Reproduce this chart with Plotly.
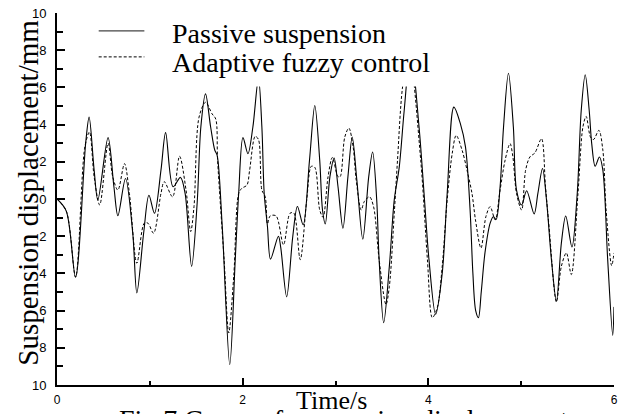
import plotly.graph_objects as go

# ---- data ----
t_passive = [0.0, 0.10, 0.20, 0.31, 0.346, 0.40, 0.44, 0.55, 0.613, 0.656, 0.738, 0.816, 0.86,
             0.934, 0.99, 1.05, 1.12, 1.17, 1.25, 1.33, 1.38, 1.45, 1.51, 1.55, 1.60, 1.655,
             1.70, 1.725, 1.78, 1.861, 1.92, 1.957, 2.003, 2.057, 2.11, 2.17, 2.207, 2.232,
             2.267, 2.30, 2.385, 2.41, 2.474, 2.54, 2.59, 2.652, 2.72, 2.777, 2.83, 2.86,
             2.89, 2.94, 2.985, 3.027, 3.08, 3.134, 3.18, 3.23, 3.294, 3.358, 3.40, 3.444,
             3.47, 3.519, 3.58, 3.633, 3.687, 3.74, 3.81, 3.90, 3.954, 4.007, 4.078, 4.15,
             4.203, 4.275, 4.345, 4.40, 4.45, 4.48, 4.51, 4.54, 4.57, 4.61, 4.666, 4.70,
             4.73, 4.773, 4.81, 4.863, 4.916, 4.95, 5.005, 5.059, 5.14, 5.18, 5.23, 5.273,
             5.326, 5.38, 5.433, 5.48, 5.547, 5.604, 5.647, 5.69, 5.733, 5.76, 5.797, 5.843,
             5.88, 5.932, 5.986, 6.0]
v_passive = [0.0, -0.65, -4.2, 3.07, 4.4, 1.55, -0.05, 3.3, 0.66, -0.9, 1.1, -1.83, -5.05,
             -1.8, 0.2, -0.77, 1.55, 3.57, 0.66, 1.16, 0.3, -3.62, -0.2, 3.9, 5.65, 3.87,
             2.62, 2.35, -1.48, -8.9, -3.26, 0.3, 3.3, 2.44, 3.87, 6.5, 3.87, 0.3,
             -1.48, -3.23, -2.0, -2.6, -5.26, -2.0, -0.4, -1.39, 2.09, 5.03, 2.09, -0.59,
             -1.34, 1.2, 2.2, 0.66, -1.57, 1.2, 3.33, 1.02, -2.16, 1.2, 2.53, -0.05,
             -3.26, -6.65, -3.62, -0.05, 1.73, 4.76, 8.0, 3.87, 0.3, -3.26, -6.2, -3.97,
             0.3, 4.94, 4.05, 2.8, -0.6, -4.0, -6.0, -6.38, -5.0, -2.9, -1.3, -0.95,
             -1.1, 0.66, 3.87, 6.76, 3.87, 0.48, -0.32, 0.44, -0.8, 0.3, 1.64, -0.05,
             -3.26, -5.49, -2.37, -0.91, -2.58, 0.3, 4.76, 6.68, 4.76, 2.98, 1.76, 2.26,
             1.55, -3.26, -7.33, -5.8]

t_adaptive = [0.0, 0.10, 0.20, 0.30, 0.35, 0.40, 0.46, 0.55, 0.60, 0.656, 0.727, 0.78, 0.86,
              0.94, 0.98, 1.04, 1.12, 1.155, 1.245, 1.32, 1.39, 1.44, 1.476, 1.53, 1.60,
              1.67, 1.71, 1.73, 1.80, 1.85, 1.904, 1.957, 1.99, 2.046, 2.075, 2.135, 2.17,
              2.207, 2.243, 2.267, 2.296, 2.36, 2.44, 2.51, 2.55, 2.62, 2.69, 2.74, 2.777,
              2.83, 2.866, 2.92, 2.966, 3.027, 3.05, 3.10, 3.144, 3.19, 3.223, 3.277, 3.31,
              3.366, 3.41, 3.47, 3.544, 3.58, 3.633, 3.668, 3.72, 3.79, 3.918, 3.99, 4.043,
              4.096, 4.15, 4.203, 4.257, 4.30, 4.364, 4.417, 4.47, 4.51, 4.567, 4.62, 4.666,
              4.72, 4.773, 4.827, 4.88, 4.91, 4.95, 5.005, 5.048, 5.094, 5.148, 5.219,
              5.262, 5.30, 5.38, 5.433, 5.487, 5.54, 5.612, 5.665, 5.70, 5.747, 5.78, 5.837,
              5.88, 5.915, 5.975, 6.0]
v_adaptive = [0.0, -0.65, -4.2, 2.8, 3.6, 1.2, -0.32, 3.0, 1.2, 0.48, 1.9, 0.3, -3.45,
              -1.3, -1.3, -1.84, 0.3, 0.93, 0.12, 2.3, 0.48, -1.75, -0.4, 4.4, 5.2,
              4.58, 4.3, 2.09, -3.26, -7.2, -4.15, 0.3, 0.57, 0.75, 1.55, 3.37, 3.2,
              0.48, 0.12, -1.34, -0.91, -0.91, -2.46, -0.77, -0.75, -3.26, -0.05, 1.76, 1.7,
              -0.59, -0.98, 1.2, 2.23, 1.2, 1.2, 3.33, 3.81, 2.8, 1.02, -0.59, -0.14,
              0.12, -0.41, -3.26, -5.67, -4.7, -0.77, 2.09, 5.92, 8.0, 2.09, -3.26, -6.38,
              -5.85, -3.6, -0.05, 2.44, 3.42, 2.62, 1.55, 0.3, -1.2, -2.64, -0.95, -0.41,
              -1.12, 0.48, 2.09, 2.98, 2.3, 0.3, -0.59, 1.55, 2.26, 2.48, 3.24,
              0.66, -1.48, -5.54, -3.62, -2.9, -4.06, 0.3, 3.87, 4.44, 3.33, 3.2, 3.69,
              2.62, -0.59, -3.58, -2.9]

y_tick_vals = [-10, -8, -6, -4, -2, 0, 2, 4, 6, 8, 10]
y_tick_text = ["10", "8", "6", "4", "2", "0", "2", "4", "6", "8", "10"]
x_tick_vals = [0, 2, 4, 6]
x_tick_text = ["0", "2", "4", "6"]

series_names = ["Passive suspension", "Adaptive fuzzy control"]

SERIF = "Liberation Serif, Times New Roman, serif"
SANS = "Liberation Sans, Arial, sans-serif"

fig = go.Figure()
fig.add_trace(go.Scatter(x=t_passive, y=v_passive, mode="lines", name=series_names[0],
                         line=dict(color="black", width=1.1, shape="spline", smoothing=0.9)))
fig.add_trace(go.Scatter(x=t_adaptive, y=v_adaptive, mode="lines", name=series_names[1],
                         line=dict(color="black", width=1.0, dash="3px,2px", shape="spline",
                                   smoothing=0.9)))

W, H = 624, 414
L, R, T, B = 57, 6, 12, 29
pw, ph = W - L - R, H - T - B


def px(xp):
    return (xp - L) / pw


def py(yp):
    return (H - B - yp) / ph


fig.update_layout(
    width=W, height=H,
    margin=dict(l=L, r=R, t=T, b=B),
    paper_bgcolor="white", plot_bgcolor="white",
    showlegend=False,
    xaxis=dict(range=[0, 6], showgrid=False, zeroline=False, showline=True,
               linecolor="black", linewidth=2, ticks="inside", ticklen=7, tickwidth=1.5,
               tickcolor="black", tickvals=x_tick_vals, ticktext=x_tick_text,
               tickfont=dict(family=SANS, size=12, color="black"), ticklabelstandoff=3,
               minor=dict(tickvals=[1, 3, 5], ticks="inside", ticklen=4, tickwidth=1.5,
                          tickcolor="black", showgrid=False)),
    yaxis=dict(range=[-10, 10], showgrid=False, zeroline=False, showline=True,
               linecolor="black", linewidth=2, ticks="inside", ticklen=8, tickwidth=1.5,
               tickcolor="black", tickvals=y_tick_vals, ticktext=y_tick_text,
               tickfont=dict(family=SANS, size=13, color="black"), ticklabelstandoff=6,
               minor=dict(tickvals=[-9, -7, -5, -3, -1, 1, 3, 5, 7, 9], ticks="inside",
                          ticklen=6, tickwidth=1.5, tickcolor="black", showgrid=False)),
)

# white legend box that hides the peaks in the reference
fig.add_shape(type="rect", xref="x", yref="y", x0=0.4, x1=4.6, y0=6.05, y1=10,
              fillcolor="white", line=dict(width=0), layer="above")
# legend samples
fig.add_shape(type="line", xref="paper", yref="paper", x0=px(99), x1=px(145), y0=py(30),
              y1=py(30), line=dict(color="#444", width=1.3), layer="above")
fig.add_shape(type="line", xref="paper", yref="paper", x0=px(99), x1=px(145), y0=py(56),
              y1=py(56), line=dict(color="black", width=1.0, dash="3px,2px"), layer="above")

fig.add_annotation(text=series_names[0], xref="paper", yref="paper", x=px(171), y=py(33),
                   xanchor="left", yanchor="middle", showarrow=False,
                   font=dict(family=SERIF, size=28, color="black"))
fig.add_annotation(text=series_names[1], xref="paper", yref="paper", x=px(171), y=py(62),
                   xanchor="left", yanchor="middle", showarrow=False,
                   font=dict(family=SERIF, size=28, color="black"))

# axis titles
fig.add_annotation(text="Suspension displacement/mm", xref="paper", yref="paper",
                   x=px(27), y=py(192), xanchor="center", yanchor="middle", textangle=-90,
                   showarrow=False, font=dict(family=SERIF, size=29, color="black"))
fig.add_annotation(text="Time/s", xref="paper", yref="paper", x=px(333), y=py(401),
                   xanchor="center", yanchor="middle", showarrow=False,
                   font=dict(family=SERIF, size=26, color="black"))
# caption (cut off at the bottom edge in the reference)
fig.add_annotation(text="Fig.7 Curve of suspension displacement", xref="paper", yref="paper",
                   x=px(117), y=py(402), xanchor="left", yanchor="top", showarrow=False,
                   font=dict(family=SERIF, size=28, color="black"))

fig.write_html("out.html", config={"displayModeBar": False},
               post_script="document.body.style.margin='0';document.body.style.overflow='hidden';")
